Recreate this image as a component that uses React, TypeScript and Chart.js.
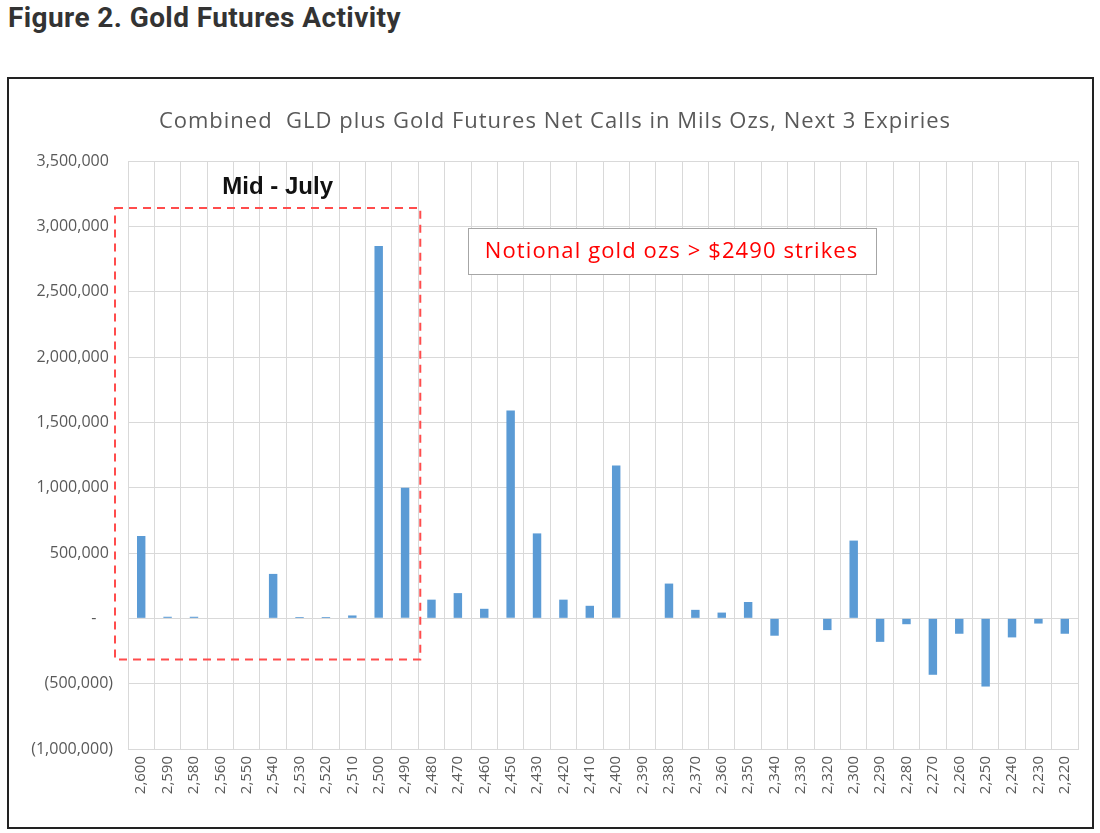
import React, { useEffect, useRef } from "react";
import { Chart, registerables } from "chart.js";

Chart.register(...registerables);

const strikes: string[] = [
  "2,600", "2,590", "2,580", "2,560", "2,550", "2,540", "2,530", "2,520", "2,510", "2,500",
  "2,490", "2,480", "2,470", "2,460", "2,450", "2,430", "2,420", "2,410", "2,400", "2,390",
  "2,380", "2,370", "2,360", "2,350", "2,340", "2,330", "2,320", "2,300", "2,290", "2,280",
  "2,270", "2,260", "2,250", "2,240", "2,230", "2,220",
];

const netCalls: number[] = [
  630000, 12000, 12000, 0, 0, 340000, 10000, 10000, 22000, 2850000,
  1000000, 143000, 193000, 73000, 1590000, 650000, 143000, 96000, 1170000, 0,
  266000, 65000, 44000, 125000, -133000, 0, -90000, 595000, -180000, -45000,
  -432000, -118000, -522000, -146000, -40000, -118000,
];

const yMin = -1000000;
const yMax = 3500000;
const yStep = 500000;

const figureHeading = "Figure 2. Gold Futures Activity";
const chartTitle = "Combined  GLD plus Gold Futures Net Calls in Mils Ozs, Next 3 Expiries";
const zoneLabel = "Mid - July";
const calloutText = "Notional gold ozs > $2490 strikes";

// annotation anchors in data space (category index / value)
const zoneLastIndex = 10; // 2,490
const zoneTopValue = 3140000;
const zoneBottomValue = -315000;
const zoneLabelValue = 3300000;
const calloutIndex = 20.1;
const calloutValue = 2810000;

const FONT = "'Open Sans', 'Liberation Sans', Arial, sans-serif";

function fmtTick(v: number): string {
  if (v === 0) return "-    ";
  const s = Math.abs(v).toLocaleString("en-US");
  return v < 0 ? "(" + s + ")" : s + " ";
}

const annotationPlugin = {
  id: "annot",
  afterDraw(chart: any) {
    const ctx = chart.ctx as any;
    const x = chart.scales.x;
    const y = chart.scales.y;
    const area = chart.chartArea;
    const cat = x.getPixelForValue(1) - x.getPixelForValue(0);
    ctx.save();

    // outer frame
    ctx.strokeStyle = "#222222";
    ctx.lineWidth = 2;
    ctx.strokeRect(8, 78, 1085, 750);

    // chart title
    ctx.fillStyle = "#595959";
    ctx.font = "22px " + FONT;
    ctx.letterSpacing = "1px";
    ctx.textAlign = "center";
    ctx.textBaseline = "middle";
    ctx.fillText(chartTitle, 555, area.top - 39);
    ctx.letterSpacing = "0px";

    // dashed zone
    const zl = area.left - 13;
    const zr = x.getPixelForValue(zoneLastIndex) + cat / 2 + 2;
    const zt = y.getPixelForValue(zoneTopValue);
    const zb = y.getPixelForValue(zoneBottomValue);
    ctx.setLineDash([8, 6]);
    ctx.strokeStyle = "#ff4c4c";
    ctx.lineWidth = 2;
    ctx.strokeRect(zl, zt, zr - zl, zb - zt);
    ctx.setLineDash([]);

    // zone label
    ctx.fillStyle = "#111111";
    ctx.font = "bold 24px 'Liberation Sans', Arial, sans-serif";
    ctx.textAlign = "center";
    ctx.fillText(zoneLabel, (zl + zr) / 2 + 10, y.getPixelForValue(zoneLabelValue));

    // callout box
    const cx = x.getPixelForValue(calloutIndex);
    const cy = y.getPixelForValue(calloutValue);
    ctx.font = "22px " + FONT;
    ctx.letterSpacing = "1.1px";
    const w = ctx.measureText(calloutText).width + 34;
    const h = 46;
    ctx.fillStyle = "#ffffff";
    ctx.fillRect(cx - w / 2, cy - h / 2, w, h);
    ctx.strokeStyle = "#a6a6a6";
    ctx.lineWidth = 1;
    ctx.strokeRect(Math.round(cx - w / 2) + 0.5, Math.round(cy - h / 2) + 0.5, Math.round(w), h);
    ctx.fillStyle = "#ff0000";
    ctx.fillText(calloutText, cx, cy + 1);
    ctx.letterSpacing = "0px";

    ctx.restore();
  },
};

export default function App() {
  const ref = useRef<HTMLCanvasElement | null>(null);

  useEffect(() => {
    if (!ref.current) return;
    const chart = new Chart(ref.current, {
      type: "bar",
      data: {
        labels: strikes,
        datasets: [
          {
            data: netCalls,
            backgroundColor: "#5b9bd5",
            borderWidth: 0,
            barPercentage: 0.32,
            categoryPercentage: 1,
          },
        ],
      },
      options: {
        animation: false,
        responsive: false,
        maintainAspectRatio: false,
        layout: { padding: { left: 10, right: 22, top: 161, bottom: 10 } },
        plugins: {
          legend: { display: false },
          tooltip: { enabled: false },
          title: { display: false },
        },
        scales: {
          x: {
            grid: { color: "#d9d9d9", lineWidth: 1, offset: true, drawTicks: false },
            border: { display: true, color: "#d9d9d9" },
            ticks: {
              color: "#595959",
              font: { family: FONT, size: 15 },
              minRotation: 90,
              maxRotation: 90,
              padding: 7,
              autoSkip: false,
            },
            afterFit: (s: any) => {
              s.height = 74;
            },
          },
          y: {
            min: yMin,
            max: yMax,
            grid: { color: "#d9d9d9", lineWidth: 1, drawTicks: false },
            border: { display: false },
            ticks: {
              stepSize: yStep,
              color: "#595959",
              font: { family: FONT, size: 16 },
              padding: 15,
              callback: (v: any) => fmtTick(Number(v)),
            },
            afterFit: (s: any) => {
              s.width = 118;
            },
          },
        },
      },
      plugins: [annotationPlugin],
    });
    return () => chart.destroy();
  }, []);

  return (
    <div style={{ position: "absolute", left: 0, top: 0, width: 1100, height: 833, background: "#ffffff" }}>
      <div
        style={{
          position: "absolute",
          left: 8,
          top: 0,
          font: "bold 28px 'Liberation Sans Narrow', 'Roboto', sans-serif",
          letterSpacing: "0.4px",
          color: "#333333",
          lineHeight: "36px",
          whiteSpace: "nowrap",
        }}
      >
        {figureHeading}
      </div>
      <canvas ref={ref} width={1100} height={833} style={{ position: "absolute", left: 0, top: 0, width: 1100, height: 833 }} />
    </div>
  );
}
